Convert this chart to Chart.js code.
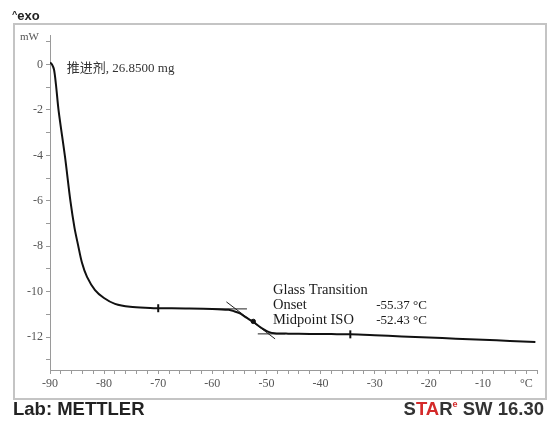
<!DOCTYPE html>
<html>
<head>
<meta charset="utf-8">
<script src="https://cdn.jsdelivr.net/npm/chart.js@4.4.1/dist/chart.umd.min.js"></script>
<style>
  html, body { margin: 0; padding: 0; background: #fff; }
  #wrap { position: relative; width: 552px; height: 423px; overflow: hidden; background: #fff; }
  #frame { position: absolute; left: 13px; top: 23px; width: 530px; height: 373px; border: 2px solid #c4c4c4; }
  canvas { position: absolute; left: 0; top: 0; }
  .txt { position: absolute; white-space: nowrap; }
  #exo { left: 12px; top: 8px; font: bold 13px "Liberation Sans", Arial, sans-serif; color: #222; }
  #exo sup { font-size: 9px; vertical-align: 3px; }
  #mw { left: 20px; top: 30px; font: 11px "Liberation Serif", serif; color: #555; }
  #degc { left: 520px; top: 376px; font: 12px "Liberation Serif", serif; color: #555; }
  #lab { left: 13px; top: 398px; font: bold 18.5px "Liberation Sans", Arial, sans-serif; color: #222; }
  #star { right: 8px; top: 398px; font: bold 18.5px "Liberation Sans", Arial, sans-serif; color: #333; }
  #star .r { color: #d42a2a; }
  #star sup { font-size: 9px; vertical-align: 8px; color: #d42a2a; }
</style>
</head>
<body>
<div id="wrap">
  <div id="frame"></div>
  <canvas id="c" width="552" height="423"></canvas>
  <div class="txt" id="exo"><sup>^</sup>exo</div>
  <div class="txt" id="mw">mW</div>
  <div class="txt" id="degc">°C</div>
  <div class="txt" id="lab">Lab: METTLER</div>
  <div class="txt" id="star">S<span class="r">TA</span>R<sup>e</sup> SW 16.30</div>
</div>
<script>
// ---- data ----
const temperature = [-90, -89.63, -89.26, -88.9, -88.41, -87.23, -86.21, -85.47, -84.82, -84.09, -83.16, -81.68, -80.02, -77.99, -75.2, -71.5, -70, -65, -60, -57, -56, -55, -54, -53, -52.4, -51.5, -50.5, -49.5, -48.5, -46, -42, -38, -34.5, -30, -25, -20, -15, -10, -5, -0.3];
const heatFlow = [0.09, 0.0, -0.22, -0.88, -2.03, -4.06, -6.04, -7.19, -7.94, -8.73, -9.35, -9.93, -10.28, -10.54, -10.67, -10.72, -10.73, -10.74, -10.76, -10.8, -10.86, -10.95, -11.1, -11.25, -11.33, -11.5, -11.66, -11.78, -11.83, -11.85, -11.86, -11.87, -11.88, -11.92, -11.97, -12.02, -12.07, -12.12, -12.17, -12.22];

// onset construction lines
const tangentT = [-57.4, -48.4];
const tangentY = [-10.45, -12.08];
const upperBaseT = [-60, -53.6];
const upperBaseY = [-10.76, -10.76];
const lowerBaseT = [-51.6, -46.5];
const lowerBaseY = [-11.86, -11.86];

// integration limits and midpoint
const limitT = [-70, -34.5];
const limitY = [-10.73, -11.88];
const midpointT = [-52.43];
const midpointY = [-11.31];

// axis ticks
const xMin = -90, xMax = 0, xStep = 2, xLabelEvery = 10;
const yMin = -13.45, yMax = 1.3, yStep = 1, yLabelEvery = 2;

// annotations
const sampleLabel = "推进剂, 26.8500 mg";
const gtTitle = "Glass Transition";
const gtRows = [["Onset", "-55.37 °C"], ["Midpoint ISO", "-52.43 °C"]];

const pts = (xs, ys) => xs.map((x, i) => ({ x: x, y: ys[i] }));

const annot = {
  id: 'annot',
  afterDatasetsDraw(chart) {
    const ctx = chart.ctx, xs = chart.scales.x, ys = chart.scales.y;
    ctx.save();
    ctx.fillStyle = '#333';
    ctx.textBaseline = 'middle';
    ctx.textAlign = 'left';
    ctx.font = '13px "Liberation Serif", "Noto Sans CJK SC", serif';
    ctx.fillText(sampleLabel, xs.getPixelForValue(-86.9), ys.getPixelForValue(-0.18));
    ctx.fillStyle = '#1a1a1a';
    const x0 = xs.getPixelForValue(-48.8), x1 = xs.getPixelForValue(-29.7);
    ctx.font = '14.5px "Liberation Serif", serif';
    ctx.fillText(gtTitle, x0, ys.getPixelForValue(-9.93));
    const rowY = [-10.6, -11.26];
    gtRows.forEach((r, i) => {
      const py = ys.getPixelForValue(rowY[i]);
      ctx.font = '14.5px "Liberation Serif", serif';
      ctx.fillText(r[0], x0, py);
      ctx.font = '13px "Liberation Serif", serif';
      ctx.fillText(r[1], x1, py);
    });
    ctx.restore();
  }
};

new Chart(document.getElementById('c'), {
  type: 'line',
  data: {
    datasets: [
      { data: pts(temperature, heatFlow), borderColor: '#111', borderWidth: 2, pointRadius: 0, tension: 0.3, fill: false },
      { data: pts(tangentT, tangentY), borderColor: '#222', borderWidth: 1, pointRadius: 0, fill: false },
      { data: pts(upperBaseT, upperBaseY), borderColor: '#222', borderWidth: 1, pointRadius: 0, fill: false },
      { data: pts(lowerBaseT, lowerBaseY), borderColor: '#222', borderWidth: 1, pointRadius: 0, fill: false },
      { data: pts(limitT, limitY), showLine: false, pointStyle: 'line', rotation: 90, pointRadius: 4, pointBorderWidth: 2, pointBorderColor: '#111' },
      { data: pts(midpointT, midpointY), showLine: false, pointStyle: 'circle', pointRadius: 2.2, pointBackgroundColor: '#111', pointBorderColor: '#111' }
    ]
  },
  options: {
    responsive: false,
    animation: false,
    devicePixelRatio: 1,
    layout: { padding: { left: 14, right: 15, top: 35, bottom: 25 } },
    plugins: { legend: { display: false }, tooltip: { enabled: false } },
    scales: {
      x: {
        type: 'linear', min: xMin, max: xMax,
        afterFit: s => { s.height = 28; },
        border: { display: true, color: '#9a9a9a', width: 1 },
        grid: { drawOnChartArea: false, tickLength: 4, color: '#9a9a9a' },
        ticks: {
          stepSize: xStep, autoSkip: false, maxRotation: 0, padding: 3, includeBounds: false,
          color: '#555', font: { family: '"Liberation Serif", serif', size: 12 },
          callback: v => (v % xLabelEvery === 0 && v < xMax) ? String(v) : ''
        }
      },
      y: {
        type: 'linear', min: yMin, max: yMax,
        afterFit: s => { s.width = 36; },
        border: { display: true, color: '#9a9a9a', width: 1 },
        grid: { drawOnChartArea: false, tickLength: 4, color: '#9a9a9a' },
        ticks: {
          stepSize: yStep, autoSkip: false, padding: 3, includeBounds: false,
          color: '#555', font: { family: '"Liberation Serif", serif', size: 12 },
          callback: v => (v % yLabelEvery === 0 && v <= 0) ? String(v) : ''
        }
      }
    }
  },
  plugins: [annot]
});
</script>
</body>
</html>
